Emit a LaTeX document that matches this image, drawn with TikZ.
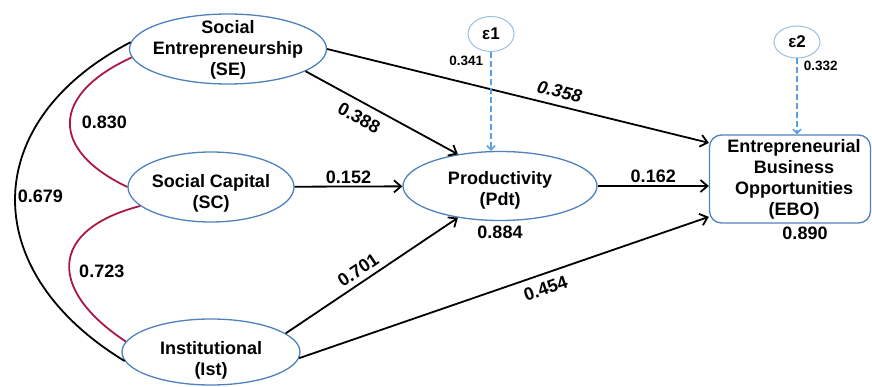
\documentclass[tikz,border=0pt]{standalone}
\usepackage{fontspec}
\setmainfont{Liberation Sans}
\usetikzlibrary{arrows.meta, positioning, shapes.geometric}
\definecolor{nodeblue}{RGB}{79,129,189}
\definecolor{errblue}{RGB}{155,190,225}
\definecolor{dashblue}{RGB}{90,160,225}
\definecolor{corred}{RGB}{170,25,65}

\begin{document}
\begin{tikzpicture}[x=1pt, y=-1pt, >={Straight Barb[length=7pt,width=12pt]},
  latent/.style={ellipse, draw=nodeblue, line width=1.3pt, inner sep=0pt},
  lbl/.style={font=\fontsize{18}{21}\selectfont\bfseries, align=center},
  coef/.style={font=\fontsize{18}{21}\selectfont\bfseries, inner sep=1pt},
  small/.style={font=\fontsize{13.5}{15}\selectfont\bfseries, inner sep=1pt},
  effect/.style={->, line width=1.8pt},
  corr/.style={line width=1.8pt, draw=corred},
  err/.style={ellipse, draw=errblue, line width=1pt, minimum width=46pt, minimum height=35pt, inner sep=0pt, font=\fontsize{17}{20}\selectfont\bfseries},
  errarr/.style={->, dash pattern=on 6pt off 3pt, draw=dashblue, line width=1.6pt, >={Straight Barb[length=4pt,width=8pt]}}]

\useasboundingbox (0,0) rectangle (872,387);
\clip (0,0) rectangle (872,387);

\node[latent, minimum width=197pt, minimum height=70pt, label={[lbl, yshift=-1pt]center:{Social\\Entrepreneurship\\(SE)}}] (SE) at (228,49) {};
\node[latent, minimum width=166pt, minimum height=70pt, label={[lbl, yshift=-6pt]center:{Social Capital\\(SC)}}] (SC) at (211,187) {};
\node[latent, minimum width=178pt, minimum height=66pt, label={[lbl, yshift=-8pt]center:{Institutional\\(Ist)}}] (Ist) at (211,352) {};
\node[latent, minimum width=194pt, minimum height=69pt, label={[lbl, yshift=-4pt]center:{Productivity\\(Pdt)}}] (Pdt) at (500,186) {};
\node[rectangle, rounded corners=12pt, draw=nodeblue, line width=1.3pt, minimum width=161pt, minimum height=88pt, inner sep=0pt,
  label={[lbl, xshift=4pt]center:{Entrepreneurial\\Business\\Opportunities\\(EBO)}}] (EBO) at (790,179) {};
\node[err] (e1) at (491,34) {ε1};
\node[err, minimum height=32pt] (e2) at (797,42) {ε2};

\node[coef, below=4pt of Pdt.south] (R1) {0.884};
\node[coef, below=2pt of EBO.south, xshift=15pt] (R2) {0.890};

\draw[effect] (SE.-16) -- node[coef, sloped, pos=.4, below=7pt] {0.388} (Pdt.143);
\draw[effect] (SE.east) -- node[coef, sloped, pos=.6, above=6pt, font=\fontsize{18}{21}\selectfont\bfseries\itshape] {0.358} (EBO.156);
\draw[effect] (SC) -- node[coef, above=1pt] {0.152} (Pdt);
\draw[effect] (Pdt.east) -- node[coef, above=1pt] {0.162} (Pdt.east -| EBO.west);
\draw[effect] (Ist.14) -- node[coef, sloped, pos=.46, above=4pt] {0.701} (Pdt.217);
\draw[effect] (Ist.-4) -- node[coef, sloped, pos=.59, below=6pt] {0.454} (EBO.205);

\draw[errarr] (e1) -- node[small, pos=.09, left=6pt] {0.341} (e1 |- Pdt.north);
\draw[errarr] (e2) -- node[small, pos=.1, right=5pt] {0.332} (e2 |- EBO.north);

\draw[corr] (SE.185) .. controls (50,95) and (50,150) .. node[coef, pos=.5, right=10pt, text=black] {0.830} (SC.180);
\draw[corr] (SC.195) .. controls (48,230) and (48,290) .. node[coef, pos=.55, right=8pt, text=black] {0.723} (Ist.173);
\draw[line width=1.8pt] (SE.176) .. controls (-20,120) and (-25,270) .. node[coef, pos=.5, right=1pt] {0.679} (Ist.186);

\end{tikzpicture}
\end{document}
